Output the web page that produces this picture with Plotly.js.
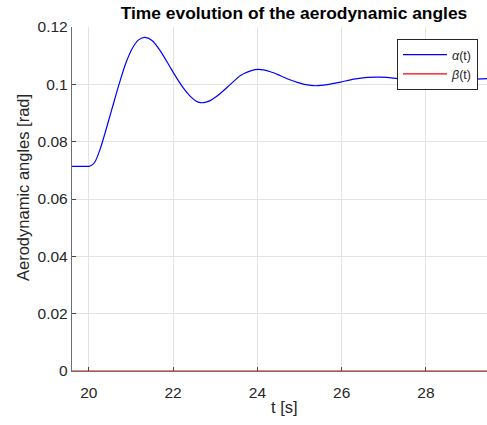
<!DOCTYPE html>
<html>
<head>
<meta charset="utf-8">
<script src="https://cdn.plot.ly/plotly-3.0.1.min.js"></script>
<style>
  html, body { margin: 0; padding: 0; background: #fff; overflow: hidden; }
  #chart { width: 487px; height: 425px; }
</style>
</head>
<body>
<div id="chart"></div>
<script>
// Simulation time samples [s]
const time = [19.5, 19.8, 20.0, 20.08, 20.15, 20.27, 20.39, 20.55, 20.71, 20.87,
  21.03, 21.18, 21.33, 21.5, 21.7, 21.94, 22.09, 22.25, 22.41, 22.53,
  22.65, 22.78, 22.89, 23.12, 23.36, 23.6, 23.84, 24.03, 24.31, 24.55,
  24.77, 24.95, 25.15, 25.38, 25.66, 25.97, 26.29, 26.61, 26.92, 27.28,
  27.6, 27.95, 28.2, 28.5, 28.8, 29.1, 29.5];

// Angle of attack alpha(t) [rad]
const alpha = [0.0714, 0.0714, 0.0714, 0.0719, 0.0731, 0.0775, 0.0833, 0.0915, 0.0997, 0.1071,
  0.1125, 0.1155, 0.1164, 0.1153, 0.1116, 0.1057, 0.1021, 0.0986, 0.0958, 0.0943,
  0.0936, 0.0938, 0.0944, 0.0968, 0.1000, 0.1031, 0.1047, 0.1052, 0.1044, 0.1030,
  0.1016, 0.1007, 0.0999, 0.0995, 0.0999, 0.1008, 0.1018, 0.1024, 0.1025, 0.1021,
  0.1015, 0.1011, 0.1011, 0.1012, 0.1015, 0.1018, 0.1020];

// Sideslip angle beta(t) [rad]
const betaTime = [19.5, 29.5];
const beta = [0, 0];

const xTicks = [20, 22, 24, 26, 28];
const yTicks = [0, 0.02, 0.04, 0.06, 0.08, 0.1, 0.12];
const yTickText = ['0', '0.02', '0.04', '0.06', '0.08', '0.1', '0.12'];

const FONT = 'Liberation Sans, Arial, Helvetica, sans-serif';
const INK = '#262626';

// Plot-area geometry in pixels (used to place the axis labels)
const PLOT_L = 72, PLOT_W = 415, PLOT_T = 27, PLOT_H = 344;

const traces = [
  {
    x: time, y: alpha, type: 'scatter', mode: 'lines',
    name: '<i>α</i>(t)',
    line: { color: '#0000ff', width: 1.2, shape: 'spline', smoothing: 0.8 }
  },
  {
    x: betaTime, y: beta, type: 'scatter', mode: 'lines',
    name: '<i>β</i>(t)',
    line: { color: '#ff0000', width: 1.2 }
  }
];

const axisCommon = {
  showgrid: true, gridcolor: '#e3e3e3', gridwidth: 1,
  showline: true, linecolor: '#6e6e6e', linewidth: 1.2,
  ticks: 'inside', ticklen: 4, tickcolor: '#444', tickwidth: 1,
  tickfont: { family: FONT, size: 15.5, color: INK },
  zeroline: false, layer: 'below traces', fixedrange: true
};

const layout = {
  width: 487, height: 425,
  margin: { l: PLOT_L, r: 487 - PLOT_L - PLOT_W, t: PLOT_T, b: 425 - PLOT_T - PLOT_H },
  paper_bgcolor: '#ffffff', plot_bgcolor: '#ffffff',
  font: { family: FONT, color: INK },
  title: {
    text: '<b>Time evolution of the aerodynamic angles</b>',
    font: { family: FONT, size: 17.4, color: '#000' },
    xref: 'container', x: 294 / 487, xanchor: 'center',
    yref: 'container', y: 1 - 13 / 425, yanchor: 'middle'
  },
  xaxis: Object.assign({}, axisCommon, {
    range: [19.6, 29.45],
    tickvals: xTicks,
    ticklabelstandoff: 7
  }),
  yaxis: Object.assign({}, axisCommon, {
    range: [0, 0.12],
    tickvals: yTicks, ticktext: yTickText
  }),
  annotations: [
    {
      text: 't [s]', showarrow: false,
      xref: 'paper', yref: 'paper',
      x: (284 - PLOT_L) / PLOT_W, y: -(407 - PLOT_T - PLOT_H) / PLOT_H,
      xanchor: 'center', yanchor: 'middle',
      font: { family: FONT, size: 16.5, color: INK }
    },
    {
      text: 'Aerodynamic angles [rad]', showarrow: false, textangle: -90,
      xref: 'paper', yref: 'paper',
      x: -(PLOT_L - 23) / PLOT_W, y: (PLOT_T + PLOT_H - 188) / PLOT_H,
      xanchor: 'center', yanchor: 'middle',
      font: { family: FONT, size: 16.5, color: INK }
    }
  ],
  showlegend: true,
  legend: {
    x: (397 - PLOT_L) / PLOT_W, xanchor: 'left',
    y: (PLOT_T + PLOT_H - 39) / PLOT_H, yanchor: 'top',
    bgcolor: '#ffffff', bordercolor: '#262626', borderwidth: 1,
    font: { family: FONT, size: 12.5, color: INK },
    itemwidth: 44, tracegroupgap: 0
  }
};

Plotly.newPlot('chart', traces, layout, { displayModeBar: false, staticPlot: true });
</script>
</body>
</html>
